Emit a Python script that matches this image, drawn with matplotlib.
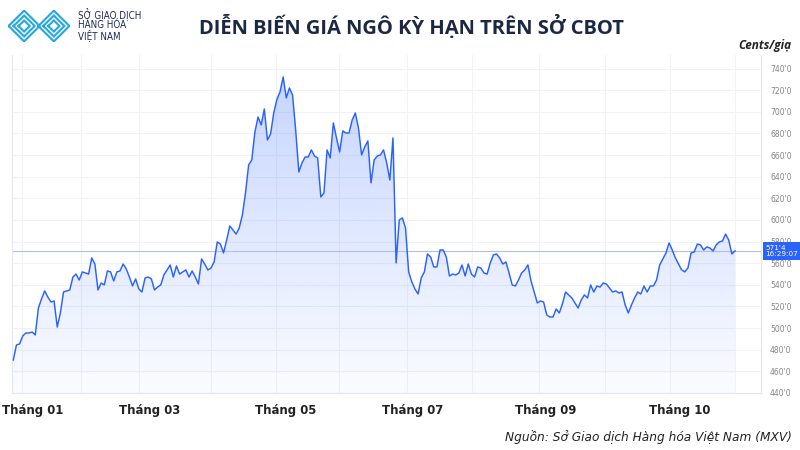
import numpy as np
import matplotlib
matplotlib.use("Agg")
import matplotlib.pyplot as plt
from matplotlib.patches import Polygon
from matplotlib import font_manager as fm

# ---------------- data ----------------
prices = [
    470.5, 484.4, 485.3, 492.7, 495.5, 495.5, 496.4, 493.7, 518.6,
    527.0, 534.4, 528.8, 524.2, 525.1, 501.0, 514.0, 533.4,
    534.4, 535.3, 547.3, 550.0, 544.5, 552.0,
    551.0, 550.0, 564.9, 559.3, 535.3, 541.7, 540.0, 552.9, 552.0, 543.6, 552.0,
    552.9, 559.3, 554.7,
    547.3, 539.0, 545.5, 536.2, 533.4, 546.4, 547.3, 545.5, 535.3, 538.0, 540.0,
    549.2, 553.8, 558.4, 547.3, 557.5, 550.0, 552.0, 553.8, 547.3, 552.9, 547.3,
    540.8, 564.0, 559.3, 553.8, 555.6, 561.2, 579.7, 577.8, 569.5, 581.5, 594.5,
    590.8, 587.0, 592.6, 604.6, 625.0, 650.9, 655.5, 681.4, 695.3, 687.9, 702.7,
    674.0, 679.6, 699.0, 711.5, 718.4, 732.3, 712.9, 722.1, 715.6,
    683.0, 644.4, 652.8, 658.3, 658.3, 664.8, 659.2, 657.4, 621.3, 625.0, 664.8,
    657.4, 689.8, 675.9, 662.9, 682.4, 680.5, 680.5, 692.5, 699.0, 685.1, 660.2,
    667.6, 673.1, 634.3, 655.5, 659.2, 660.2, 664.8, 652.8, 637.0, 675.9, 560.3,
    600.0, 601.9, 592.6, 552.0, 542.7, 536.2, 531.6, 546.4, 552.0, 568.6, 565.8,
    556.6, 556.6, 572.3, 572.3, 565.8, 548.2, 550.0, 549.2, 551.0, 558.4, 548.2,
    559.3, 550.0, 547.3, 556.6, 555.6, 551.0, 550.0, 560.3, 567.7, 568.6, 564.9,
    559.3, 561.2, 551.0, 539.9, 539.0, 544.5, 551.0, 553.8, 558.4, 543.6, 533.4,
    523.3, 525.1, 524.2, 512.2, 510.3, 510.3, 517.7, 514.0, 522.3, 533.4, 530.7,
    527.9, 523.3, 518.6, 526.0, 530.7, 527.9, 539.9, 533.4, 539.0, 538.0, 541.7,
    540.8, 537.1, 533.4, 534.4, 532.5, 533.4, 521.4, 514.0, 521.4,
    527.9, 533.4, 531.6, 539.0, 533.4, 539.0, 539.0, 544.5, 558.4, 564.0, 569.5,
    578.8, 572.3, 564.9, 559.3, 553.8, 552.0, 555.6, 569.5, 570.4, 577.8, 576.9,
    572.3, 575.1, 574.1, 571.4, 576.9, 579.7, 580.6, 587.0, 581.5, 568.6, 571.5,
]
month_labels = ["Tháng 01", "Tháng 03", "Tháng 05", "Tháng 07", "Tháng 09", "Tháng 10"]
y_ticks = list(range(440, 741, 20))
last_price_label = "571'4"
last_time_label = "16:29:07"
title = "DIỄN BIẾN GIÁ NGÔ KỲ HẠN TRÊN SỞ CBOT"
unit_label = "Cents/giạ"
source = "Nguồn: Sở Giao dịch Hàng hóa Việt Nam (MXV)"
logo_lines = ["SỞ GIAO DỊCH", "HÀNG HÓA", "VIỆT NAM"]


# ---------------- fonts: find a narrow/condensed sans face if installed ----------------
def find_font(words, bold=False, italic=False):
    for f in sorted(fm.findSystemFonts()):
        name = f.lower().split("/")[-1].replace("-", "").replace("_", "").replace(" ", "")
        if all(w in name for w in words) and "serif" not in name and "mono" not in name:
            is_bold = "bold" in name
            is_it = "italic" in name or "oblique" in name
            if is_bold == bold and is_it == italic:
                return f
    return None


narrow_bold = (find_font(["liberationsansnarrow"], bold=True)
               or find_font(["dejavusanscondensed"], bold=True))
narrow_it = (find_font(["liberationsansnarrow"], italic=True)
             or find_font(["dejavusanscondensed"], italic=True))
narrow_reg = (find_font(["liberationsansnarrow"])
              or find_font(["dejavusanscondensed"]))


def fp(path, size, weight="normal", style="normal", fallback_scale=0.85):
    if path:
        return fm.FontProperties(fname=path, size=size)
    return fm.FontProperties(family="Roboto", size=size * fallback_scale,
                             weight=weight, style=style)


# ---------------- layout ----------------
W, H = 800, 450
fig = plt.figure(figsize=(8, 4.5), dpi=100)
fig.patch.set_facecolor("white")


def fx(px):
    return px / W


def fy(py):
    return 1 - py / H


ax = fig.add_axes([fx(12), fy(393), fx(761) - fx(12), fy(55) - fy(393)])
x = np.arange(len(prices))
y = np.array(prices)
n = len(prices)
step = (735 - 13.3) / (n - 1)  # pixels per trading day


def idx(px):
    return (px - 13.3) / step


ax.set_xlim(idx(12), idx(761))
ax.set_ylim(440, 752.6)

# grid
for v in y_ticks:
    ax.axhline(v, color="#f0f2f8", lw=0.8, zorder=0)
for px in [22, 81, 139, 211, 276, 339, 407, 472, 539, 605, 670, 735]:
    ax.axvline(idx(px), color="#f0f2f8", lw=0.8, zorder=0)

# gradient fill
line_color = "#2962ff"
poly = Polygon(np.column_stack([np.r_[x, x[-1], x[0]], np.r_[y, 440, 440]]),
               closed=True, facecolor="none", edgecolor="none")
ax.add_patch(poly)
grad = np.linspace(0, 1, 256).reshape(-1, 1)
rgba = np.zeros((256, 1, 4))
rgba[..., 0] = 41 / 255
rgba[..., 1] = 98 / 255
rgba[..., 2] = 255 / 255
rgba[..., 3] = 0.02 + 0.25 * grad
im = ax.imshow(rgba, extent=[x[0], x[-1], 440, 740], origin="lower",
               aspect="auto", zorder=1, interpolation="bilinear")
im.set_clip_path(poly)

ax.plot(x, y, color=line_color, lw=1.05, zorder=3, solid_joinstyle="round")

# last price line
ax.axhline(y[-1], color="#aebff0", lw=0.8, zorder=2)

# axes styling
ax.spines["top"].set_visible(False)
for s in ["left", "right", "bottom"]:
    ax.spines[s].set_color("#e3e6ee")
    ax.spines[s].set_linewidth(0.8)

ax.set_yticks(y_ticks)
ax.set_yticklabels([f"{v}'0" for v in y_ticks])
ax.tick_params(axis="y", left=False, right=False, labelleft=False, labelright=True,
               pad=3, labelsize=5.5, labelcolor="#858585")

label_px = [33, 150, 286, 413, 546, 680]
ax.set_xticks([idx(p) for p in label_px])
ax.set_xticklabels(month_labels)
ax.tick_params(axis="x", length=0, pad=8, labelcolor="#222222")
month_fp = fp(narrow_bold, 9.4, weight="bold")
for t in ax.get_xticklabels():
    t.set_fontproperties(month_fp)

# price tag on the right axis
ax.annotate(f"{last_price_label}\n{last_time_label}", xy=(1, y[-1]),
            xycoords=("axes fraction", "data"), xytext=(3, 0),
            textcoords="offset points", ha="left", va="center",
            fontsize=5.2, color="white", linespacing=1.1,
            bbox=dict(boxstyle="square,pad=0.35", fc=line_color, ec="none"),
            annotation_clip=False, zorder=5)

# title and texts
fig.text(fx(411), fy(27), title, ha="center", va="center", fontsize=14.5,
         fontweight="bold", color="#1b2745", family=["Open Sans", "DejaVu Sans"])
fig.text(fx(791), fy(46), unit_label, ha="right", va="center", fontsize=8.5,
         fontweight="bold", fontstyle="italic", color="#222222",
         family=["Open Sans", "DejaVu Sans"])
fig.text(fx(792), fy(437), source, ha="right", va="center",
         fontproperties=fp(narrow_it, 9.7, style="italic"), color="#222222")

# logo (decorative)
lax = fig.add_axes([fx(8), fy(42), fx(70) - fx(8), fy(10) - fy(42)])
lax.set_xlim(0, 10)
lax.set_ylim(0, 5.2)
lax.axis("off")
cyan = "#22a8e0"
for k in range(3):
    d = 2.5 - 0.8 * k
    for cx in (2.6, 7.4):
        xs = [cx - d, cx, cx + d, cx, cx - d]
        ys = [2.6, 2.6 + d, 2.6, 2.6 - d, 2.6]
        lax.plot(xs, ys, color=cyan, lw=1.5, solid_joinstyle="miter")
for i, t in enumerate(logo_lines):
    fig.text(fx(78), fy(15 + 10 * i), t, ha="left", va="center",
             fontproperties=fp(narrow_reg, 7, fallback_scale=0.95), color="#1b2a5a")

fig.savefig("out.png", dpi=100, facecolor="white")
